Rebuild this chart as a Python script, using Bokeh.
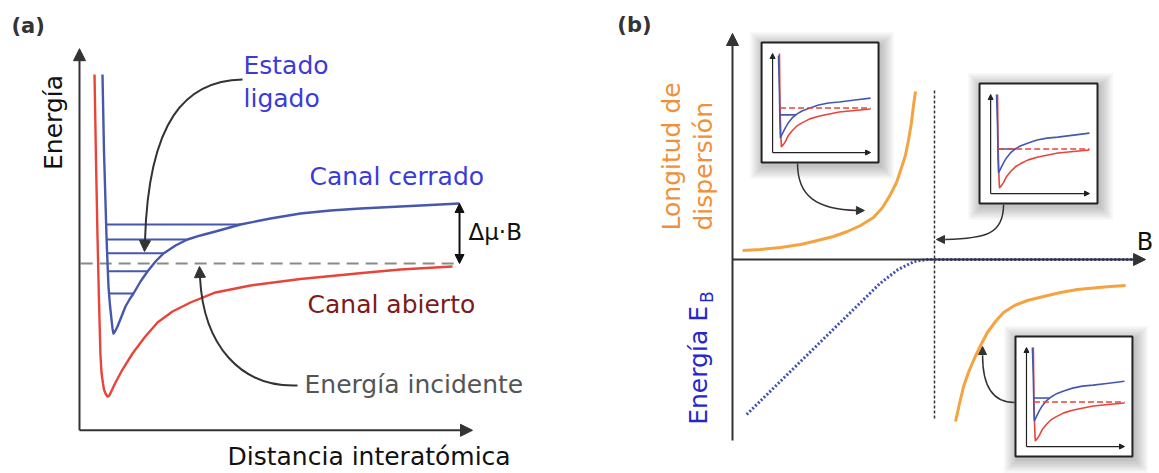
import math
import numpy as np
from bokeh.plotting import figure
from bokeh.layouts import row
from bokeh.models import Range1d, Arrow, NormalHead, Label
from bokeh.embed import file_html
from bokeh.resources import INLINE

# ---------------- panel (a): two-channel potential curves ----------------
# r = interatomic distance, E = energy (arbitrary units, E = 0 at open-channel threshold)
open_r = [0.382, 0.420, 0.458, 0.496, 0.534, 0.560, 0.598, 0.623, 0.662, 0.712, 0.751,
          0.814, 0.916, 1.094, 1.349, 1.654, 1.985, 2.366, 2.824, 3.461, 4.351, 5.623,
          7.328, 8.168, 9.491]
open_E = [3.150, 1.717, 0.450, -0.617, -1.533, -1.817, -2.000, -2.100, -2.167, -2.217,
          -2.208, -2.125, -1.983, -1.767, -1.500, -1.233, -0.983, -0.800, -0.650, -0.483,
          -0.367, -0.258, -0.150, -0.100, -0.050]
closed_r = [0.585, 0.623, 0.687, 0.712, 0.738, 0.776, 0.814, 0.840, 0.865, 0.903, 0.967,
            1.069, 1.170, 1.272, 1.374, 1.552, 1.730, 1.934, 2.137, 2.443, 2.748, 3.079,
            3.461, 4.097, 4.860, 5.623, 6.387, 7.150, 8.677, 9.669]
closed_E = [3.150, 1.883, 0.450, 0.017, -0.383, -0.700, -0.933, -1.083, -1.167, -1.133,
            -1.050, -0.883, -0.717, -0.600, -0.500, -0.300, -0.133, 0.033, 0.167, 0.300,
            0.400, 0.467, 0.533, 0.650, 0.750, 0.833, 0.883, 0.917, 0.967, 1.000]
bound_E = [0.65, 0.40, 0.17, -0.13, -0.50]
threshold_E = 0.0
gap_E = 1.0            # Δμ·B between the two asymptotes
r_axis_max = 10.0
E_axis_min, E_axis_max = -2.78, 3.58

# ---------------- panel (b): scattering length and binding energy vs B ----------------
B_res = 1.0
a_pos_B = [0.050, 0.139, 0.238, 0.337, 0.401, 0.500, 0.569, 0.634, 0.698, 0.743, 0.782,
           0.812, 0.832, 0.856, 0.871, 0.886, 0.896, 0.906]
a_pos = [0.09, 0.10, 0.12, 0.15, 0.18, 0.23, 0.28, 0.34, 0.42, 0.52, 0.65,
         0.77, 0.89, 1.04, 1.19, 1.37, 1.54, 1.68]
a_neg_B = [1.104, 1.124, 1.144, 1.168, 1.193, 1.228, 1.262, 1.302, 1.342, 1.396, 1.460,
           1.540, 1.624, 1.708, 1.787, 1.871, 1.946]
a_neg = [-1.62, -1.44, -1.27, -1.13, -1.01, -0.86, -0.73, -0.62, -0.53, -0.46, -0.41,
         -0.37, -0.33, -0.30, -0.285, -0.27, -0.26]
eb_B = [0.07, 0.73, 0.82, 0.90, 0.965, 2.02]
eb = [-1.55, -0.24, -0.10, -0.02, 0.0, 0.0]
B_axis_max = 2.045
v_axis_min, v_axis_max = -1.81, 2.26

# small potential sketches (normalised: u along r, w along E)
inset_open_u = [0.07, 0.075, 0.085, 0.09, 0.11, 0.13, 0.16, 0.20, 0.25, 0.30, 0.38, 0.48,
                0.58, 0.68, 0.89, 1.0]
inset_open_w = [1.0, 0.50, 0.15, 0.06, 0.08, 0.11, 0.17, 0.22, 0.27, 0.30, 0.34, 0.37,
                0.39, 0.41, 0.43, 0.44]
inset_closed_u = [0.06, 0.07, 0.075, 0.08, 0.10, 0.13, 0.16, 0.20, 0.25, 0.30, 0.38, 0.47,
                  0.57, 0.68, 0.84, 1.0]
inset_closed_w = [0.98, 0.60, 0.30, 0.15, 0.19, 0.25, 0.30, 0.35, 0.39, 0.42, 0.45, 0.48,
                  0.50, 0.51, 0.53, 0.55]
inset_threshold = 0.45
inset_bound = [0.38, 0.45, 0.49]
inset_detuning = [0.0, 0.06, 0.11]

FONT = "DejaVu Sans"
RED = "#e8443a"
BLUE = "#4657ad"
TXT_BLUE = "#3b3bdb"
ORANGE = "#f4a340"
ORANGE_TXT = "#f0903a"
AXIS = "#333333"


def make_fig(width, xr, yr):
    p = figure(width=width, height=473, x_range=Range1d(*xr), y_range=Range1d(*yr),
               x_axis_type=None, y_axis_type=None, output_backend="svg",
               toolbar_location=None, min_border=0)
    p.outline_line_color = None
    p.background_fill_color = "white"
    p.border_fill_color = "white"
    return p


def head(size, color=AXIS):
    return NormalHead(size=size, fill_color=color, line_color=color, line_width=1)


def label(p, text, x, y, size="25px", color="#111111", align="left", angle=0.0, style="normal"):
    p.add_layout(Label(x=x, y=y, text=text, text_font=FONT, text_font_size=size,
                       text_color=color, text_align=align, text_baseline="middle",
                       angle=angle, text_font_style=style))


def curved_arrow(p, x0, y0, cx0, cy0, cx1, cy1, x1, y1, xt, yt, width=2, size=11):
    p.bezier(x0=[x0], y0=[y0], cx0=[cx0], cy0=[cy0], cx1=[cx1], cy1=[cy1],
             x1=[x1], y1=[y1], line_color=AXIS, line_width=width)
    p.add_layout(Arrow(end=head(size), x_start=x1, y_start=y1, x_end=xt, y_end=yt,
                       line_color=AXIS, line_width=width))


# ======================= panel (a) =======================
pa = make_fig(580, (-2.010, 12.748), (-3.5, 4.383))

# incident energy (open-channel threshold)
pa.line([0.03, 9.67], [threshold_E, threshold_E], line_color="#8a8a8a", line_width=2,
        line_dash="12 7")

pa.line(open_r, open_E, line_color=RED, line_width=2.4, line_join="round")
pa.line(closed_r, closed_E, line_color=BLUE, line_width=2.4, line_join="round")

# vibrational levels of the closed channel
cr, cE = np.array(closed_r), np.array(closed_E)
k = int(np.argmin(cE))
for lev in bound_E:
    r_left = np.interp(lev, cE[:k + 1][::-1], cr[:k + 1][::-1])
    r_right = np.interp(lev, cE[k:], cr[k:])
    pa.line([r_left, r_right], [lev, lev], line_color=BLUE, line_width=2)

# axes
pa.add_layout(Arrow(end=head(12), x_start=0, y_start=E_axis_min, x_end=0, y_end=E_axis_max,
                    line_color=AXIS, line_width=2))
pa.add_layout(Arrow(end=head(12), x_start=0, y_start=E_axis_min, x_end=r_axis_max,
                    y_end=E_axis_min, line_color=AXIS, line_width=2))

# Zeeman shift between the asymptotes
pa.add_layout(Arrow(start=head(9, "#111111"), end=head(9, "#111111"), x_start=9.67,
                    y_start=threshold_E, x_end=9.67, y_end=threshold_E + gap_E,
                    line_color="#111111", line_width=2))

curved_arrow(pa, 4.148, 3.067, 2.697, 3.05, 1.756, 2.383, 1.667, 0.383, 1.654, 0.20)
curved_arrow(pa, 5.547, -2.033, 4.097, -2.067, 3.155, -1.367, 3.066, -0.233, 3.053, -0.05)

label(pa, "(a)", -1.73, 3.95, size="21px", color="#333333", style="bold")
label(pa, "Energía", -0.662, 2.35, align="center", angle=math.pi / 2)
label(pa, "Estado", 4.173, 3.293, color=TXT_BLUE)
label(pa, "ligado", 4.173, 2.743, color=TXT_BLUE)
label(pa, "Canal cerrado", 5.852, 1.443, color=TXT_BLUE)
label(pa, "Canal abierto", 5.802, -0.69, color="#7d1a1a")
label(pa, "Energía incidente", 5.725, -2.023, color="#555555")
label(pa, "Δμ·B", 9.898, 0.533, size="23px")
label(pa, "Distancia interatómica", 3.766, -3.225)

# ======================= panel (b) =======================
pb = make_fig(579, (-0.7525, 2.1139), (-2.14, 2.59))
px_b = (pb.x_range.end - pb.x_range.start) / pb.width
px_v = (pb.y_range.end - pb.y_range.start) / pb.height

pb.add_layout(Arrow(end=head(12), x_start=0, y_start=v_axis_min, x_end=0, y_end=v_axis_max,
                    line_color=AXIS, line_width=2))
pb.add_layout(Arrow(end=head(12), x_start=0, y_start=0, x_end=B_axis_max, y_end=0,
                    line_color=AXIS, line_width=2))

pb.line([B_res, B_res], [-1.59, 1.69], line_color=AXIS, line_width=1.5, line_dash="3 2")

pb.line(eb_B, eb, line_color="#4450b0", line_width=3, line_dash="2 2")
pb.line(a_pos_B, a_pos, line_color=ORANGE, line_width=3, line_join="round")
pb.line(a_neg_B, a_neg, line_color=ORANGE, line_width=3, line_join="round")

inset_boxes = [(0.144, 0.723, 0.97, 2.17), (1.223, 1.807, 0.56, 1.76), (1.401, 1.980, -1.97, -0.77)]


def inset(p, box, bound_w, shift):
    b0, b1, v0, v1 = box
    L, R, Bt, T = [], [], [], []
    for j in range(1, 10):
        d = 1.5 * j
        L.append(b0 - (d - 2) * px_b)
        R.append(b1 + (d + 2) * px_b)
        Bt.append(v0 - (d + 3) * px_v)
        T.append(v1 + (d - 3) * px_v)
    p.quad(left=L, right=R, bottom=Bt, top=T, fill_color="black", fill_alpha=0.028,
           line_color=None)
    p.quad(left=[b0], right=[b1], bottom=[v0], top=[v1], fill_color="white",
           line_color="#222222", line_width=2)

    fx0, fx1, fy0, fy1 = 0.094, 0.932, 0.083, 0.908

    def U(u):
        return b0 + (fx0 + np.asarray(u, float) * (fx1 - fx0)) * (b1 - b0)

    def W(w):
        return v0 + (fy0 + np.asarray(w, float) * (fy1 - fy0)) * (v1 - v0)

    for xe, ye in ((U(0), W(1.0)), (U(1.0), W(0))):
        p.add_layout(Arrow(end=head(5, "#222222"), x_start=float(U(0)), y_start=float(W(0)),
                           x_end=float(xe), y_end=float(ye), line_color="#222222",
                           line_width=1.2))

    ou, ow = np.array(inset_open_u), np.array(inset_open_w)
    cu = np.array(inset_closed_u)
    cw = np.minimum(np.array(inset_closed_w) + shift, 1.0)
    p.line(U(ou), W(ow), line_color=RED, line_width=1.6, line_join="round")
    p.line(U(cu), W(cw), line_color=BLUE, line_width=1.6, line_join="round")

    kc = int(np.argmin(cw))
    u_l = np.interp(bound_w, cw[:kc + 1][::-1], cu[:kc + 1][::-1])
    u_r = np.interp(bound_w, cw[kc:], cu[kc:])
    p.line(U([u_l, u_r]), W([bound_w, bound_w]), line_color=BLUE, line_width=1.6)

    ko = int(np.argmin(ow))
    u_t = np.interp(inset_threshold, ow[:ko + 1][::-1], ou[:ko + 1][::-1])
    p.line(U([u_t, 1.0]), W([inset_threshold, inset_threshold]), line_color=RED,
           line_width=1.6, line_dash="6 3")


for box, bw, sh in zip(inset_boxes, inset_bound, inset_detuning):
    inset(pb, box, bw, sh)

curved_arrow(pb, 0.322, 0.96, 0.322, 0.64, 0.411, 0.50, 0.619, 0.49, 0.653, 0.49, width=1.5, size=8)
curved_arrow(pb, 1.342, 0.55, 1.342, 0.25, 1.252, 0.21, 1.054, 0.20, 1.010, 0.20, width=1.5, size=8)
curved_arrow(pb, 1.396, -1.43, 1.287, -1.43, 1.238, -1.26, 1.238, -0.96, 1.238, -0.87, width=1.5, size=8)

label(pb, "(b)", -0.57, 2.35, size="21px", color="#333333", style="bold")
label(pb, "Longitud de", -0.300, 0.29, color=ORANGE_TXT, angle=math.pi / 2)
label(pb, "dispersión", -0.143, 0.29, color=ORANGE_TXT, angle=math.pi / 2)
label(pb, "Energía E", -0.168, -1.653, color="#2626d0", angle=math.pi / 2)
label(pb, "B", -0.125, -0.435, size="17px", color="#2626d0", angle=math.pi / 2)
label(pb, "B", 2.042, 0.18, size="24px", align="center")

layout = row(pa, pb)
open("out.html", "w").write(file_html(layout, INLINE))
